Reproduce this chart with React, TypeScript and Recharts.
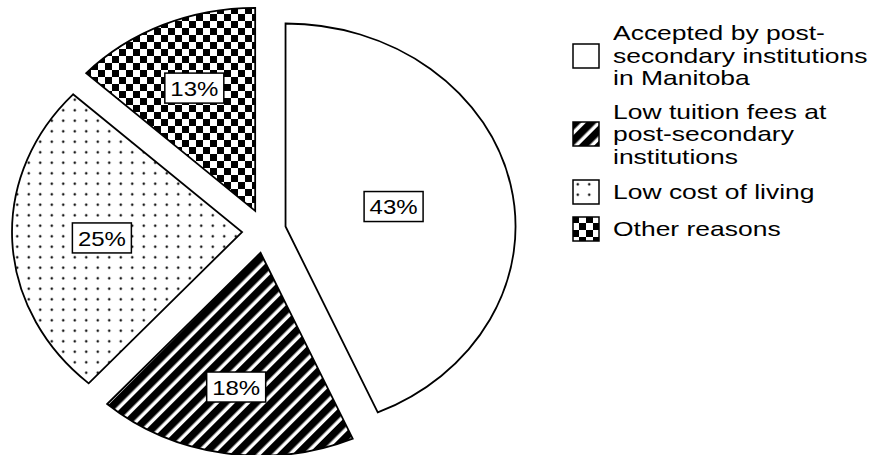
import { Legend, Pie, PieChart } from "recharts"

// reasons for choosing Manitoba, share of respondents (%)
const categories = [
  "Accepted by post-secondary institutions in Manitoba",
  "Low tuition fees at post-secondary institutions",
  "Low cost of living",
  "Other reasons",
]
const shares = [43, 18, 25, 13]
const legendLines = [
  ["Accepted by post-", "secondary institutions", "in Manitoba"],
  ["Low tuition fees at", "post-secondary", "institutions"],
  ["Low cost of living"],
  ["Other reasons"],
]

const data = categories.map((name, i) => ({ name, value: shares[i] }))

const FILLS = ["#ffffff", "url(#hatch)", "url(#dots)", "url(#checker)"]
const FONT = "'Liberation Sans', Arial, Helvetica, sans-serif"
const RAD = Math.PI / 180
const PIE_SX = 1.133 // the scanned pie is a bit wider than tall
const TEXT_SX = 1.2
const EXPLODE = 22
const LABEL_POS = [0.48, 0.67, 0.61, 0.66]

function Slice(props: any) {
  const { cx, cy, outerRadius, startAngle, endAngle, midAngle, index, value } = props
  const rx = outerRadius * PIE_SX
  const ry = outerRadius
  const ox = cx + EXPLODE * Math.cos(-midAngle * RAD)
  const oy = cy + EXPLODE * Math.sin(-midAngle * RAD)
  const pt = (a: number, f = 1) => [ox + rx * f * Math.cos(-a * RAD), oy + ry * f * Math.sin(-a * RAD)]
  const [x1, y1] = pt(startAngle)
  const [x2, y2] = pt(endAngle)
  const large = Math.abs(startAngle - endAngle) > 180 ? 1 : 0
  const sweep = startAngle > endAngle ? 1 : 0
  const d = `M${ox},${oy} L${x1},${y1} A${rx},${ry} 0 ${large} ${sweep} ${x2},${y2} Z`
  const [lx, ly] = pt(midAngle, LABEL_POS[index])
  return (
    <g>
      <path d={d} fill={FILLS[index]} stroke="#000" strokeWidth={1.8} />
      <rect x={lx - 29.5} y={ly - 15} width={59} height={30} fill="#fff" stroke="#000" strokeWidth={1.5} />
      <text
        x={0}
        y={0}
        transform={`translate(${lx},${ly + 1}) scale(${TEXT_SX},1)`}
        textAnchor="middle"
        dominantBaseline="central"
        fontSize={20}
        fontFamily={FONT}
        fill="#000"
      >
        {value}%
      </text>
    </g>
  )
}

function LegendBlock() {
  return (
    <div style={{ fontFamily: FONT, fontSize: 21, lineHeight: "22.5px", color: "#000" }}>
      {legendLines.map((lines, i) => (
        <div key={i} style={{ display: "flex", alignItems: "center", marginBottom: 11 }}>
          <svg width={28} height={26} style={{ flex: "none" }}>
            <rect x={1} y={1} width={26} height={24} fill={FILLS[i]} stroke="#000" strokeWidth={1.5} />
          </svg>
          <div style={{ marginLeft: 13, transform: "scaleX(1.26)", transformOrigin: "left center", whiteSpace: "nowrap" }}>
            {lines.map((l) => (
              <div key={l}>{l}</div>
            ))}
          </div>
        </div>
      ))}
    </div>
  )
}

export default function App() {
  return (
    <div style={{ position: "absolute", left: 0, top: 0, width: 876, height: 455, background: "#fff" }}>
      <PieChart width={876} height={455} margin={{ top: 0, right: 0, bottom: 0, left: 0 }}>
        <defs>
          <pattern id="hatch" patternUnits="userSpaceOnUse" width={11} height={11} patternTransform="rotate(45)">
            <rect x={0} y={0} width={11} height={11} fill="#fff" />
            <rect x={0} y={0} width={7.5} height={11} fill="#000" />
          </pattern>
          <pattern id="dots" patternUnits="userSpaceOnUse" width={11.5} height={10.5}>
            <rect x={0} y={0} width={11.5} height={10.5} fill="#fff" />
            <circle cx={5.75} cy={5.25} r={1.2} fill="#000" />
          </pattern>
          <pattern id="checker" patternUnits="userSpaceOnUse" width={14} height={14}>
            <rect x={0} y={0} width={14} height={14} fill="#fff" />
            <rect x={0} y={0} width={7} height={7} fill="#000" />
            <rect x={7} y={7} width={7} height={7} fill="#000" />
          </pattern>
        </defs>
        <Pie
          data={data}
          dataKey="value"
          nameKey="name"
          cx={264}
          cy={231}
          outerRadius={203}
          startAngle={90}
          endAngle={-270}
          fill="none"
          stroke="none"
          label={Slice}
          labelLine={false}
          isAnimationActive={false}
        />
        <Legend
          content={() => <LegendBlock />}
          layout="vertical"
          align="right"
          verticalAlign="top"
          wrapperStyle={{ left: 572, top: 22, width: 300 }}
        />
      </PieChart>
    </div>
  )
}
